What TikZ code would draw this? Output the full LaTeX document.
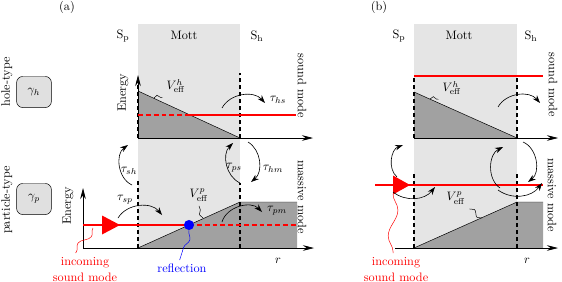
\documentclass[tikz,border=0pt]{standalone}
\usetikzlibrary{arrows.meta,positioning,decorations.pathmorphing}

\begin{document}
\begin{tikzpicture}[
  x=0.0287cm,y=0.0287cm,
  >={Stealth[length=6.5pt,width=4.5pt]},
  mott/.style={fill=black!10},
  potfill/.style={fill=black!37},
  wall/.style={line width=1.3pt,dash pattern=on 3.3pt off 2.4pt},
  axis/.style={-{Stealth[length=9pt,width=4.5pt]},line width=0.5pt},
  mode/.style={red,line width=2.3pt},
  ghost/.style={mode,dash pattern=on 4pt off 2.4pt},
  hop/.style={->,line width=0.5pt},
  typebox/.style={draw,fill=black!12,rounded corners=5pt,
                  minimum width=1.0cm,minimum height=0.89cm},
  side/.style={rotate=-90},
  wiggle/.style 2 args={decorate,decoration={snake,segment length=#1,amplitude=#2}}
]
\useasboundingbox (0,0) rectangle (562,281);

% ---------- panel (a) ----------
\fill[mott] (138,33) rectangle (240,257);
\node (labA) at (67,274) {(a)};
\node (spA) at (123,245) {S$_\mathrm{p}$};
\node (mottA) at (184,246) {Mott};
\node (shA) at (257,245) {S$_\mathrm{h}$};
\node[rotate=90] (holeT) at (7,199) {hole-type};
\node[rotate=90] (partT) at (7,81) {particle-type};
\node[typebox] (gh) at (34,189) {$\gamma_h$};
\node[typebox] (gp) at (34,82) {$\gamma_p$};

% hole-type potential
\coordinate (oA) at (138,143);
\coordinate (vhA) at (138,190);
\coordinate (shAb) at (240,143);
\fill[potfill] (vhA) -- (shAb) -- (oA) -- cycle;
\draw[line width=0.4pt] (vhA) -- (shAb);
\draw[axis] (oA) -- (138,206);
\draw[axis] (oA) -- (313,143);
\draw[wall] (oA) -- (138,199);
\draw[wall] (shAb) -- (240,208);
\coordinate (hcut) at (186,166);
\draw[ghost] (138,166) -- (hcut);
\draw[mode] (hcut) -- (296,166);
\node[rotate=90] (enA) at (123,188) {Energy};
\node (VhA) at (176,195) {$V^h_\mathrm{eff}$};
\draw[wiggle={0.3cm}{2pt}] (154,183) -- (VhA.south west);
\coordinate (hs0) at (222,173);
\coordinate (hs1) at (265,178);
\draw[hop] (hs0) to[bend left=55] (hs1);
\node (tauhs) at (278,181) {$\tau_{hs}$};
\node[side] (sndA) at (302,195) {sound mode};

% particle-type potential
\coordinate (oP) at (83,33);
\coordinate (spAb) at (138,33);
\coordinate (topA) at (240,79);
\fill[potfill] (spAb) -- (topA) -- (297,79) -- (297,33) -- cycle;
\draw[line width=0.4pt] (spAb) -- (topA) -- (297,79);
\draw[axis] (oP) -- (83,93);
\draw[axis] (oP) -- (314,33);
\draw[wall] (spAb) -- (138,101);
\draw[wall] (240,33) -- (240,98);
\coordinate (reflA) at (189,56);
\draw[mode] (83,56) -- (reflA);
\draw[ghost] (reflA) -- (297,56);
\fill[red] (120,56) -- (102,65.5) -- (102,46.5) -- cycle;
\node[circle,fill=blue,minimum size=2.9mm,inner sep=0pt] (dot) at (reflA) {};
\node[rotate=90] (enP) at (68,75) {Energy};
\node (VpA) at (199,86) {$V^p_\mathrm{eff}$};
\draw[wiggle={0.39cm}{2pt}] (203,63) -- (VpA.south);
\node[align=center,text=red,anchor=north] (inA) at (85,28) {incoming\\[1pt]sound mode};
\draw[red,wiggle={0.74cm}{3pt}] (93,53) -- (inA.120);
\node[text=blue,anchor=north] (refl) at (182,21) {reflection};
\draw[blue,wiggle={0.83cm}{3pt}] (dot.south) -- (refl.105);
\node (rA) at (278,20) {$r$};

% hopping between the two types
\coordinate (sp0) at (118,63);
\coordinate (sp1) at (162,66);
\draw[hop] (sp0) to[bend left=55] (sp1);
\node (tausp) at (125,81) {$\tau_{sp}$};
\coordinate (pm0) at (222,59);
\coordinate (pm1) at (262,69);
\draw[hop] (pm0) to[bend left=60] (pm1);
\node (taupm) at (277,70) {$\tau_{pm}$};
\coordinate (sh0) at (132,96);
\coordinate (sh1) at (128,136);
\draw[hop] (sh0) to[bend left=60] (sh1);
\node (taush) at (129,110) {$\tau_{sh}$};
\coordinate (ps0) at (240,98);
\coordinate (ps1) at (233,138);
\draw[hop] (ps0) to[bend left=55] (ps1);
\node (taups) at (234,113) {$\tau_{ps}$};
\coordinate (hm0) at (248,139);
\coordinate (hm1) at (251,99);
\draw[hop] (hm0) to[bend left=55] (hm1);
\node (tauhm) at (273,112) {$\tau_{hm}$};
\node[side] (masA) at (302,84) {massive mode};

% ---------- panel (b) ----------
\fill[mott] (414,33) rectangle (517,257);
\node (labB) at (379,274) {(b)};
\node (spB) at (399,245) {S$_\mathrm{p}$};
\node (mottB) at (459,246) {Mott};
\node (shB) at (531,245) {S$_\mathrm{h}$};

% hole-type potential
\coordinate (oB) at (414,143);
\coordinate (vhB) at (414,189);
\coordinate (shBb) at (517,143);
\fill[potfill] (vhB) -- (shBb) -- (oB) -- cycle;
\draw[line width=0.4pt] (vhB) -- (shBb);
\draw[axis] (oB) -- (558,143);
\draw[wall] (oB) -- (414,205);
\draw[wall] (shBb) -- (517,205);
\draw[mode] (414,205) -- (543,205);
\node (VhB) at (452,193) {$V^h_\mathrm{eff}$};
\draw[wiggle={0.3cm}{2pt}] (430,182) -- (VhB.south west);
\coordinate (bh0) at (498,174);
\coordinate (bh1) at (540,178);
\draw[hop] (bh0) to[bend left=55] (bh1);
\node[side] (sndB) at (553,196) {sound mode};

% particle-type potential
\coordinate (spBb) at (414,33);
\coordinate (topB) at (517,79);
\fill[potfill] (spBb) -- (topB) -- (543,79) -- (543,33) -- cycle;
\draw[line width=0.4pt] (spBb) -- (topB) -- (543,79);
\draw[axis] (395,33) -- (558,33);
\draw[wall] (spBb) -- (414,108);
\draw[wall] (517,33) -- (517,108);
\draw[mode] (375,96) -- (543,96);
\fill[red] (410,96) -- (393,105.5) -- (393,86.5) -- cycle;
\node (VpB) at (456,83) {$V^p_\mathrm{eff}$};
\draw[wiggle={0.39cm}{2pt}] (482,63) -- (VpB.south east);
\node[align=center,text=red,anchor=north] (inB) at (396,28) {incoming\\[1pt]sound mode};
\draw[red,wiggle={1.48cm}{4pt}] (393,87) -- (inB.100);
\node (rB) at (527,20) {$r$};

% hopping between the two types
\coordinate (b1) at (397,104);
\coordinate (b2) at (403,136);
\draw[hop] (b1) to[bend left=60] (b2);
\coordinate (b3) at (393,89);
\coordinate (b4) at (435,94);
\draw[hop] (b3) to[bend right=45] (b4);
\coordinate (b5) at (500,93);
\coordinate (b6) at (503,134);
\draw[hop] (b5) to[bend left=60] (b6);
\coordinate (b7) at (523,139);
\coordinate (b8) at (528,99);
\draw[hop] (b7) to[bend left=60] (b8);
\coordinate (b9) at (498,91);
\coordinate (b10) at (542,98);
\draw[hop] (b9) to[bend right=45] (b10);
\node[side] (masB) at (552,86) {massive mode};

\end{tikzpicture}
\end{document}
